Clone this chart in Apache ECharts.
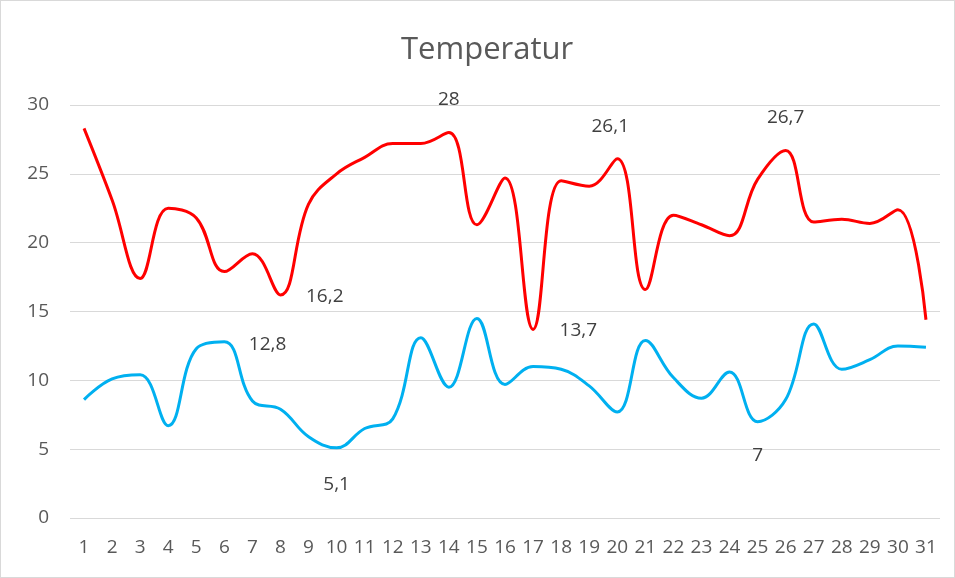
<!DOCTYPE html>
<html>
<head>
<meta charset="utf-8">
<script src="https://cdn.jsdelivr.net/npm/echarts@6/dist/echarts.min.js"></script>
<style>
html,body{margin:0;padding:0;background:#fff;}
#c{width:955px;height:578px;box-sizing:border-box;border:1px solid #d9d9d9;}
</style>
</head>
<body>
<div id="c"></div>
<script>
const titleText = 'Temperatur';
const days = ['1','2','3','4','5','6','7','8','9','10','11','12','13','14','15','16','17','18','19','20','21','22','23','24','25','26','27','28','29','30','31'];
const maxTemp = [28.3,23.1,17.4,22.5,21.8,17.9,19.2,16.2,22.8,25.0,26.2,27.2,27.2,28,21.3,24.7,13.7,24.5,24.1,26.1,16.6,22.0,21.3,20.5,24.6,26.7,21.5,21.7,21.4,22.4,14.4];
const minTemp = [8.6,10.1,10.4,6.7,12.3,12.8,8.5,7.9,5.9,5.1,6.5,7.2,13.1,9.5,14.5,9.7,11.0,10.8,9.6,7.7,12.9,10.2,8.7,10.6,7,8.6,14.1,10.8,11.5,12.5,12.4];
const maxLabelIdx = [7,13,16,19,25];
const minLabelIdx = [5,9,24];

const labelStyles = {
  max: {7:{position:'right',offset:[20,2]},13:{position:'top',offset:[0,-18]},16:{position:'right',offset:[21,1]},19:{position:'top',offset:[-7,-17]},25:{position:'top',offset:[0,-18]}},
  min: {5:{position:'right',offset:[19,3]},9:{position:'bottom',offset:[0,22]},24:{position:'bottom',offset:[0,19]}}
};

const FONT = 'Open Sans';

function buildData(vals, idxs, styles){
  return vals.map((v,i)=>{
    if(idxs.indexOf(i)>=0){
      const s = styles[i];
      return {value:v,symbol:'circle',symbolSize:1,
        itemStyle:{color:'rgba(0,0,0,0)'},
        label:{show:true,position:s.position,offset:s.offset,
        formatter:(p)=>String(p.value).replace('.',','),
        color:'#404040',fontSize:19,fontFamily:FONT}};
    }
    return {value:v,symbol:'none'};
  });
}

const chart = echarts.init(document.getElementById('c'));
chart.setOption({
  animation:false,
  title:{text:titleText,left:395,top:29,textStyle:{color:'#595959',fontSize:31,fontWeight:'normal',fontFamily:FONT}},
  grid:{left:69,right:14,top:104,bottom:59},
  xAxis:{type:'category',data:days,boundaryGap:true,
    axisLine:{show:false},axisTick:{show:false},
    axisLabel:{color:'#595959',fontSize:19,fontFamily:FONT,margin:20,interval:0}},
  yAxis:{type:'value',min:0,max:30,interval:5,
    axisLine:{show:false},axisTick:{show:false},
    axisLabel:{color:'#595959',fontSize:19,fontFamily:FONT,margin:21},
    splitLine:{lineStyle:{color:'#d9d9d9',width:1}}},
  series:[
    {type:'line',data:buildData(maxTemp,maxLabelIdx,labelStyles.max),smooth:0.4,showSymbol:true,
     lineStyle:{color:'#ff0000',width:3},itemStyle:{color:'#ff0000'}},
    {type:'line',data:buildData(minTemp,minLabelIdx,labelStyles.min),smooth:0.4,showSymbol:true,
     lineStyle:{color:'#00b0f0',width:3},itemStyle:{color:'#00b0f0'}}
  ]
});
</script>
</body>
</html>
